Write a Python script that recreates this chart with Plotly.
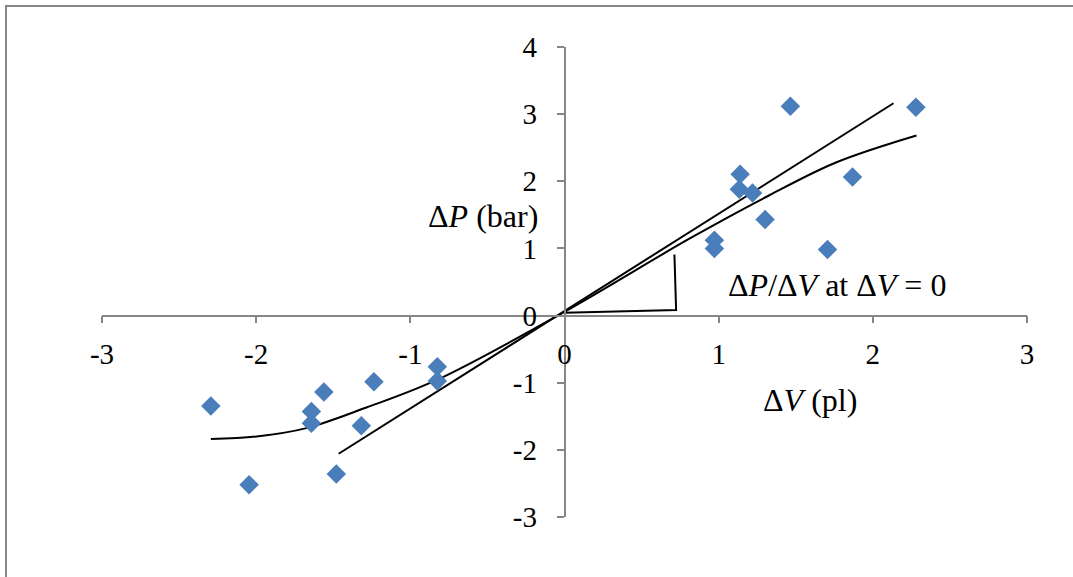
import plotly.graph_objects as go

# Measured pressure change vs. volume change
dv = [-2.294, -2.046, -1.642, -1.642, -1.561, -1.480, -1.318, -1.236, -0.825, -0.825,
      0.972, 0.972, 1.139, 1.134, 1.220, 1.301, 1.465, 1.706, 1.868, 2.279]
dp = [-1.345, -2.519, -1.429, -1.602, -1.137, -2.360, -1.642, -0.984, -0.761, -0.973,
      1.122, 0.999, 2.103, 1.880, 1.825, 1.429, 3.117, 0.984, 2.062, 3.102]

# Smooth trend curve through the cloud
trend_x = [-2.294, -1.998, -1.674, -1.285, -0.825, 0.0, 0.810, 1.329, 1.761, 2.283]
trend_y = [-1.840, -1.801, -1.676, -1.370, -0.955, 0.056, 1.145, 1.792, 2.280, 2.682]

# Tangent at the origin
tangent_x = [-1.465, 2.134]
tangent_y = [-2.058, 3.162]

# Slope triangle marker
slope_x = [0.0, 0.724, 0.713]
slope_y = [0.042, 0.082, 0.91]

x_ticks = [-3, -2, -1, 0, 1, 2, 3]
x_tick_labels = ["-3", "-2", "-1", "0", "1", "2", "3"]
y_ticks = [-3, -2, -1, 0, 1, 2, 3, 4]
y_tick_labels = ["-3", "-2", "-1", "0", "1", "2", "3", "4"]

FONT = "Liberation Serif, Times New Roman, serif"
AXIS_GREY = "#868686"

fig = go.Figure()
fig.add_trace(go.Scatter(x=trend_x, y=trend_y, mode="lines",
                         line=dict(color="black", width=2, shape="spline"),
                         hoverinfo="skip"))
fig.add_trace(go.Scatter(x=tangent_x, y=tangent_y, mode="lines",
                         line=dict(color="black", width=2), hoverinfo="skip"))
fig.add_trace(go.Scatter(x=slope_x, y=slope_y, mode="lines",
                         line=dict(color="black", width=2), hoverinfo="skip"))
fig.add_trace(go.Scatter(x=dv, y=dp, mode="markers",
                         marker=dict(symbol="diamond", size=15, color="#4A7EBB",
                                     line=dict(width=0))))

tick_font = dict(family=FONT, size=29, color="black")
label_font = dict(family=FONT, size=32, color="black")

fig.update_layout(
    width=1073, height=577,
    margin=dict(l=102, r=46, t=47, b=60),
    paper_bgcolor="white", plot_bgcolor="white",
    showlegend=False,
    font=dict(family=FONT, size=29, color="black"),
    xaxis=dict(range=[-3, 3], tickvals=x_ticks, ticktext=x_tick_labels,
               tickfont=tick_font,
               showgrid=False, zeroline=False, showline=True,
               linecolor=AXIS_GREY, linewidth=1.5,
               ticks="outside", ticklen=7, tickcolor=AXIS_GREY, tickwidth=1.5,
               anchor="free", position=3 / 7, ticklabelstandoff=6),
    yaxis=dict(range=[-3, 4], tickvals=y_ticks, ticktext=y_tick_labels,
               tickfont=tick_font,
               showgrid=False, zeroline=False, showline=True,
               linecolor=AXIS_GREY, linewidth=1.5,
               ticks="outside", ticklen=7, tickcolor=AXIS_GREY, tickwidth=1.5,
               anchor="free", position=0.5, ticklabelstandoff=14),
)

# Axis titles and slope note
fig.add_annotation(x=-0.53, y=1.49, text="Δ<i>P</i> (bar)",
                   showarrow=False, xref="x", yref="y", font=label_font)
fig.add_annotation(x=1.59, y=-1.26, text="Δ<i>V</i> (pl)",
                   showarrow=False, xref="x", yref="y", font=label_font)
fig.add_annotation(x=1.05, y=0.45, text="Δ<i>P</i>/Δ<i>V</i> at Δ<i>V</i> = 0",
                   showarrow=False, xref="x", yref="y", xanchor="left", font=label_font)

# Chart frame
fig.add_shape(type="rect", xref="paper", yref="paper",
              x0=(6 - 102) / 925, x1=(1090 - 102) / 925,
              y0=(517 - 600) / 470, y1=(517 - 6) / 470,
              line=dict(color=AXIS_GREY, width=2), layer="below")

fig.write_html("out.html")
